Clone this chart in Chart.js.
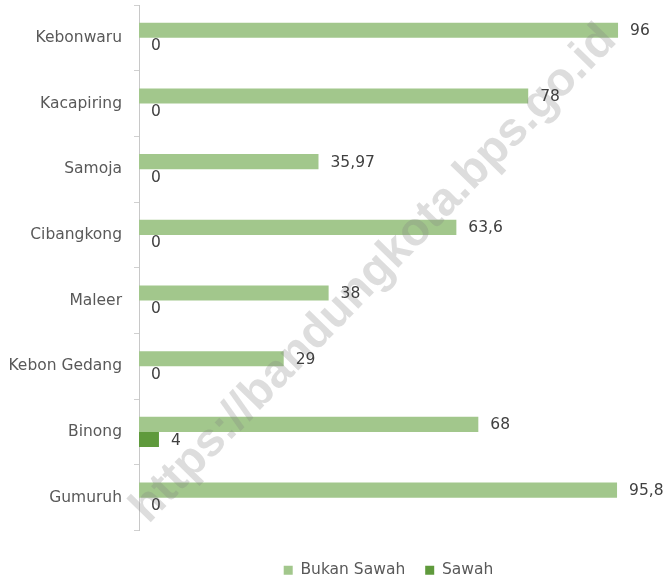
<!DOCTYPE html>
<html>
<head>
<meta charset="utf-8">
<script src="https://cdn.jsdelivr.net/npm/chart.js@4.4.1/dist/chart.umd.min.js"></script>
<style>
    html, body { margin: 0; padding: 0; background: #ffffff; }
    #wrap { width: 664px; height: 580px; }
</style>
</head>
<body>
<div id="wrap"><canvas id="landChart"></canvas></div>
<script>
const kelurahan = ['Kebonwaru', 'Kacapiring', 'Samoja', 'Cibangkong', 'Maleer', 'Kebon Gedang', 'Binong', 'Gumuruh'];
const bukanSawah = [96, 78, 35.97, 63.6, 38, 29, 68, 95.8];
const sawah = [0, 0, 0, 0, 0, 0, 4, 0];
const xMax = 100;

const FONT = 'DejaVu Sans';

// comma as decimal separator, like the source
function fmtValue(v) {
    return String(v).replace('.', ',');
}

const watermarkPlugin = {
    id: 'watermark',
    afterDatasetsDraw(chart) {
        const ctx = chart.ctx;
        ctx.save();
        ctx.translate(374, 274);
        ctx.rotate(-45.8 * Math.PI / 180);
        ctx.font = 'bold 47px "Liberation Sans"';
        ctx.fillStyle = 'rgba(128, 128, 128, 0.27)';
        ctx.textAlign = 'center';
        ctx.textBaseline = 'middle';
        ctx.fillText('https://bandungkota.bps.go.id', 0, 0);
        ctx.restore();
    }
};

const valueLabelPlugin = {
    id: 'valueLabels',
    afterDatasetsDraw(chart) {
        const ctx = chart.ctx;
        ctx.save();
        ctx.font = '15.5px "' + FONT + '"';
        ctx.fillStyle = '#404040';
        ctx.textAlign = 'left';
        ctx.textBaseline = 'middle';
        chart.data.datasets.forEach((ds, i) => {
            const meta = chart.getDatasetMeta(i);
            meta.data.forEach((bar, j) => {
                ctx.fillText(fmtValue(ds.data[j]), bar.x + 12, bar.y + 1);
            });
        });
        ctx.restore();
    }
};

new Chart(document.getElementById('landChart'), {
    type: 'bar',
    data: {
        labels: kelurahan,
        datasets: [{
            label: 'Bukan Sawah',
            data: bukanSawah,
            backgroundColor: '#a2c78c',
            categoryPercentage: 0.46,
            barPercentage: 1.0
        },
        {
            label: 'Sawah',
            data: sawah,
            backgroundColor: '#5f9a3c',
            categoryPercentage: 0.46,
            barPercentage: 1.0
        }]
    },
    options: {
        indexAxis: 'y',
        responsive: true,
        maintainAspectRatio: false,
        animation: false,
        layout: {
            padding: { top: 5, right: 26, left: 0, bottom: -8 }
        },
        scales: {
            x: {
                min: 0,
                max: xMax,
                display: true,
                afterFit: (scale) => { scale.height = 12; },
                grid: { display: false },
                border: { display: false },
                ticks: { display: false }
            },
            y: {
                afterFit: (scale) => {
                    scale.width = 139;
                    scale.paddingTop = 0;
                    scale.paddingBottom = 0;
                },
                grid: {
                    offset: true,
                    drawOnChartArea: false,
                    tickLength: 5,
                    color: '#d0d0d0'
                },
                border: { color: '#c8c8c8' },
                ticks: {
                    padding: 12,
                    color: '#595959',
                    font: { family: FONT, size: 15.5 }
                }
            }
        },
        plugins: {
            legend: {
                position: 'bottom',
                fullSize: false,
                labels: {
                    boxWidth: 9,
                    boxHeight: 9,
                    padding: 20,
                    color: '#595959',
                    font: { family: FONT, size: 15.5 }
                }
            },
            tooltip: { enabled: false }
        }
    },
    plugins: [watermarkPlugin, valueLabelPlugin]
});
</script>
</body>
</html>
